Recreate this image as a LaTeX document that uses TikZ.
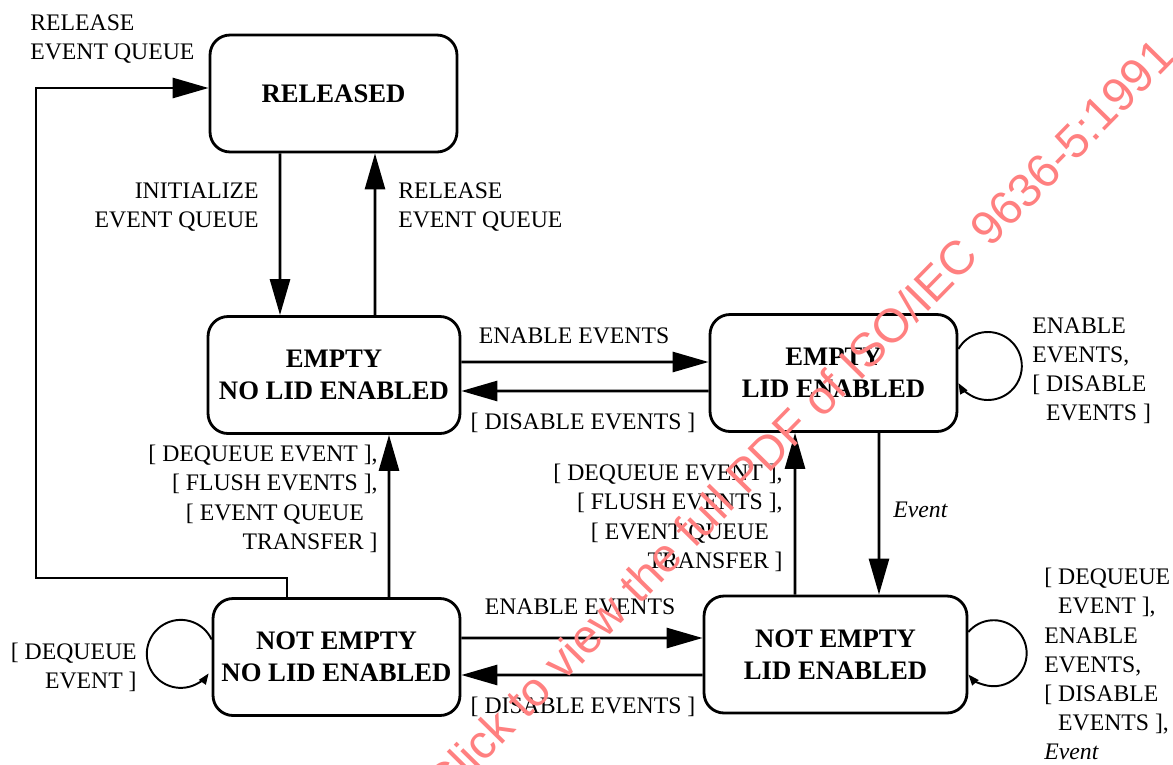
\documentclass[tikz,border=0pt]{standalone}
\usepackage{fontspec}
\setmainfont{Liberation Serif}
\newfontfamily\wmfont{Liberation Sans}
\usetikzlibrary{arrows.meta}
\definecolor{wmred}{RGB}{255,128,128}
\newcommand{\ind}{\hphantom{[\ }}
\tikzset{
  state/.style={draw, line width=1.6pt, rounded corners=0.4cm, minimum width=4.94cm,
    minimum height=2.34cm, align=center, inner sep=0pt,
    font=\fontsize{15.2}{18.2}\selectfont\bfseries},
  trans/.style={line width=1.6pt, -{Triangle[length=0.72cm, width=0.4cm]}},
  selftrans/.style={line width=1.1pt, -{Triangle[length=0.22cm, width=0.16cm]}},
  lbl/.style={inner sep=0pt, font=\fontsize{13.5}{16.6}\selectfont},
}

\begin{document}
\begin{tikzpicture}[x=0.02cm, y=-0.02cm]
    \useasboundingbox (0,0) rectangle (1173,764);

    % States
    \node[state] (rel) at (333.5,93.5) {RELEASED};
    \node[state, minimum width=5.04cm] (enl) at (334,375) {EMPTY\\NO LID ENABLED};
    \node[state] (nenl) at (336.5,657) {NOT EMPTY\\NO LID ENABLED};
    \node[state] (el) at (833.5,373) {EMPTY\\LID ENABLED};
    \node[state, minimum width=5.26cm] (nel) at (835.5,654.5) {NOT EMPTY\\LID ENABLED};

    % Initialize / release
    \draw[trans] ([xshift=-1.07cm]rel.south) -- ([xshift=-1.08cm]enl.north);
    \draw[trans] ([xshift=0.82cm]enl.north) -- ([xshift=0.83cm]rel.south);
    \coordinate (bend) at (36,578);
    \draw[trans] ([xshift=-0.99cm]nenl.north) |- (bend) |- ([yshift=0.11cm]rel.west);

    % Enable / disable events
    \draw[trans] ([yshift=0.26cm]enl.east) -- ([yshift=0.22cm]el.west);
    \draw[trans] ([yshift=-0.36cm]el.west) -- ([yshift=-0.32cm]enl.east);
    \draw[trans] ([yshift=0.38cm]nenl.east) -- ([yshift=0.33cm]nel.west);
    \draw[trans] ([yshift=-0.41cm]nel.west) -- ([yshift=-0.36cm]nenl.east);

    % Dequeue / flush / event
    \draw[trans] ([xshift=1.05cm]nenl.north) -- ([xshift=1.1cm]enl.south);
    \draw[trans] ([xshift=-0.81cm]nel.north) -- ([xshift=-0.77cm]el.south);
    \draw[trans] ([xshift=0.91cm]el.south) -- ([xshift=0.87cm]nel.north);

    % Self loops
    \draw[selftrans] ([yshift=0.35cm]nenl.west) arc[start angle=25, end angle=325, radius=0.68cm];
    \draw[selftrans] ([yshift=0.48cm]el.east) arc[start angle=150, end angle=-150, radius=0.68cm];
    \draw[selftrans] ([yshift=0.45cm]nel.east) arc[start angle=140, end angle=-140, radius=0.66cm];

    % Labels
    \node[lbl, anchor=north west, align=left] (lrel1) at (30,14) {RELEASE\\EVENT QUEUE};
    \node[lbl, anchor=north east, align=right] (linit) at (259,182) {INITIALIZE\\EVENT QUEUE};
    \node[lbl, anchor=north west, align=left] (lrel2) at (398,182) {RELEASE\\EVENT QUEUE};
    \node[lbl, anchor=north] (lena1) at (574,327) {ENABLE EVENTS};
    \node[lbl, anchor=north] (ldis1) at (583,413) {[ DISABLE EVENTS ]};
    \node[lbl, anchor=north east, align=right] (ldeq1) at (378,445)
        {[ DEQUEUE EVENT ],\\{[} FLUSH EVENTS ],\\{[} EVENT QUEUE\hphantom{\ ]}\\TRANSFER ]};
    \node[lbl, anchor=north east, align=right] (ldeq2) at (783,464)
        {[ DEQUEUE EVENT ],\\{[} FLUSH EVENTS ],\\{[} EVENT QUEUE\hphantom{\ ]}\\TRANSFER ]};
    \node[lbl, anchor=north west, font=\fontsize{13.5}{16.6}\selectfont\itshape] (lev) at (893,502) {Event};
    \node[lbl, anchor=north west, align=left] (lloop1) at (1032,317)
        {ENABLE\\EVENTS,\\{[} DISABLE\\\ind EVENTS ]};
    \node[lbl, anchor=north east, align=right] (lloop2) at (137,643) {[ DEQUEUE\\EVENT ]};
    \node[lbl, anchor=north] (lena2) at (580,598) {ENABLE EVENTS};
    \node[lbl, anchor=north] (ldis2) at (583,697) {[ DISABLE EVENTS ]};
    \node[lbl, anchor=north west, align=left] (lloop3) at (1044,568)
        {[ DEQUEUE\\\ind EVENT ],\\ENABLE\\EVENTS,\\{[} DISABLE\\\ind EVENTS ],\\\textit{Event}};

    % Watermark
    \node[text=wmred, font=\wmfont\fontsize{27}{27}\selectfont, rotate=45.5, inner sep=0pt] (wm)
        at (799,419) {Click to view the full PDF of ISO/IEC 9636-5:1991};
\end{tikzpicture}
\end{document}
